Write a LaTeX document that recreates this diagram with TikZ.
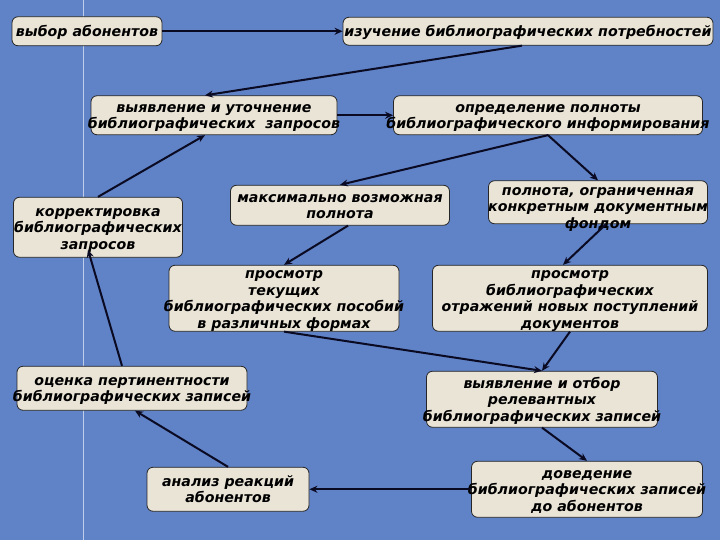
\documentclass[tikz,border=0pt]{standalone}
\usepackage{fontspec}
\setmainfont{DejaVu Sans}
\usetikzlibrary{arrows.meta}
\definecolor{fon}{RGB}{96,130,198}
\definecolor{papir}{RGB}{234,228,215}
\definecolor{strelka}{RGB}{10,10,35}
% text lines that may stick out of their box, as on the slide
\newcommand{\stroki}[2][0pt]{\makebox[0pt]{\smash{\raisebox{\dimexpr-0.4em-#1\relax}{\begin{tabular}{@{}c@{}}#2\end{tabular}}}}}
\begin{document}
\begin{tikzpicture}[x=1pt,y=-1pt]
		\tikzstyle{box}=[draw=black!85,line width=0.8pt,fill=papir,rounded corners=6pt,inner sep=0pt,
			font=\fontsize{14.2}{16.5}\selectfont\bfseries\itshape]
		\tikzstyle{arr}=[line width=2pt,draw=strelka,-{Stealth[length=8pt,width=7pt]}]
		
		\fill[fon] (0,0) rectangle (720,540);
		\draw[white,opacity=0.6,line width=0.5pt] (83,0)--(83,540);
		
		\node (vybor) at (87,31) [box,minimum width=150pt,minimum height=29pt] {\stroki{выбор абонентов}};
		\node (izuch) at (528,31) [box,minimum width=370pt,minimum height=28pt] {\stroki{изучение библиографических потребностей}};
		\node (vyyav) at (214,115) [box,minimum width=246pt,minimum height=39pt] {\stroki{выявление и уточнение\\библиографических\ \ запросов}};
		\node (opred) at (548,115) [box,minimum width=309pt,minimum height=39pt] {\stroki{определение полноты\\библиографического информирования}};
		\node (maks) at (340,205) [box,minimum width=219pt,minimum height=40pt] {\stroki{максимально возможная\\полнота}};
		\node (polnota) at (598,202) [box,minimum width=219pt,minimum height=43pt] {\stroki[4pt]{полнота, ограниченная\\конкретным документным\\фондом}};
		\node (korr) at (98,227) [box,minimum width=169pt,minimum height=60pt] {\stroki{корректировка\\библиографических\\запросов}};
		\node (prosm1) at (284,298) [box,minimum width=230pt,minimum height=66pt] {\stroki{просмотр\\текущих\\библиографических пособий\\в различных формах}};
		\node (prosm2) at (570,298) [box,minimum width=275pt,minimum height=66pt] {\stroki{просмотр\\библиографических\\отражений новых поступлений\\документов}};
		\node (ocenka) at (132,388) [box,minimum width=230pt,minimum height=44pt] {\stroki{оценка пертинентности\\библиографических записей}};
		\node (otbor) at (542,399) [box,minimum width=231pt,minimum height=56pt] {\stroki{выявление и отбор\\релевантных\\библиографических записей}};
		\node (analiz) at (228,489) [box,minimum width=162pt,minimum height=44pt] {\stroki{анализ реакций\\абонентов}};
		\node (dovod) at (587,489) [box,minimum width=231pt,minimum height=56pt] {\stroki{доведение\\библиографических записей\\до абонентов}};
		
		\draw[arr] (vybor.east)--(izuch.west);
		\draw[arr] ([xshift=-6pt]izuch.south)--([xshift=-9pt]vyyav.north);
		\draw[arr] (vyyav.east)--(opred.west);
		\draw[arr] (opred.south)--(maks.north);
		\draw[arr] (opred.south)--(polnota.north);
		\draw[arr] ([xshift=8pt]maks.south)--(prosm1.north);
		\draw[arr] ([xshift=8pt]polnota.south)--([xshift=-7pt]prosm2.north);
		\draw[arr] (prosm1.south)--(otbor.north);
		\draw[arr] (prosm2.south)--(otbor.north);
		\draw[arr] (otbor.south)--(dovod.north);
		\draw[arr] (dovod.west)--(analiz.east);
		\draw[arr] (analiz.north)--([xshift=3pt]ocenka.south);
		\draw[arr] ([xshift=-10pt]ocenka.north)--([xshift=-10pt,yshift=8pt]korr.south);
		\draw[arr] (korr.north)--([xshift=-9pt]vyyav.south);
		
\end{tikzpicture}
\end{document}
